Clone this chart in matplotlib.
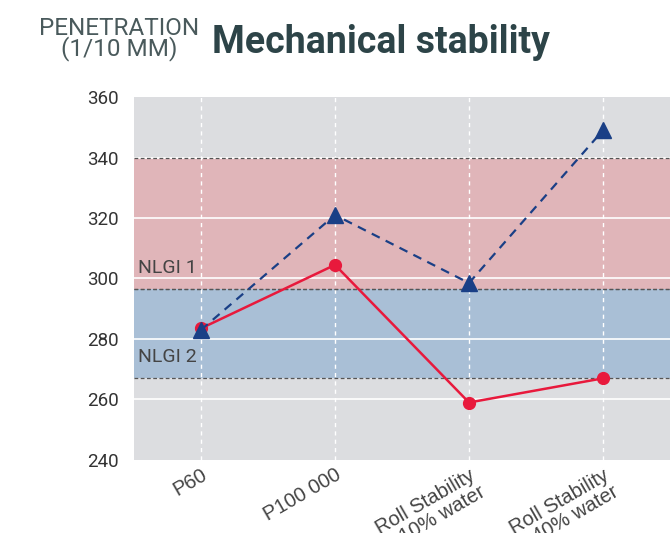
import numpy as np
import matplotlib.pyplot as plt
import matplotlib.transforms as mtransforms

# chart data
categories = ["P60", "P100 000", "Roll Stability\n10% water", "Roll Stability\n40% water"]
grease_a = [283, 321, 298.5, 349]   # blue dashed, triangles
grease_b = [283.5, 304.5, 259, 267]  # red solid, circles
nlgi_bands = {"NLGI 1": (296.5, 340), "NLGI 2": (267, 296.5)}
y_ticks = [240, 260, 280, 300, 320, 340, 360]

plt.rcParams['font.family'] = ['Roboto', 'DejaVu Sans']

fig = plt.figure(figsize=(6.7, 5.33), dpi=100)
ax = fig.add_axes([0.2, 0.137, 0.8, 0.681])
ax.set_facecolor("#dcdde0")

band_colors = {"NLGI 1": "#e0b5b9", "NLGI 2": "#a9bfd6"}
for name, (lo, hi) in nlgi_bands.items():
    ax.axhspan(lo, hi, color=band_colors[name], zorder=0.5, lw=0)
    ax.axhline(lo, color="#555555", lw=0.9, ls=(0, (3, 2)), zorder=1.5)
    ax.axhline(hi, color="#555555", lw=0.9, ls=(0, (3, 2)), zorder=1.5)
    ax.text(-0.47, lo + 4, name, fontsize=14, color="#444444", va="bottom", ha="left", zorder=3)

x = np.arange(len(categories))
for t in y_ticks[1:-1]:
    ax.axhline(t, color="white", lw=1.2, zorder=1)
for xi in x:
    ax.axvline(xi, color="white", lw=1, ls=(0, (3, 3)), zorder=1)

ax.plot(x, grease_a, color="#1a3f86", ls=(0, (4, 3)), lw=1.6, marker="^", ms=12, zorder=4)
ax.plot(x, grease_b, color="#e8193c", lw=1.8, marker="o", ms=8.5, zorder=3.5)

ax.set_xlim(-0.5, 3.5)
ax.set_ylim(240, 360)
ax.set_yticks(y_ticks)
ax.set_xticks(x)
ax.set_xticklabels(categories, rotation=30, ha="right", rotation_mode="anchor",
                   fontsize=14.5, color="#444444", linespacing=1.0,
                   family=["Liberation Sans", "DejaVu Sans"])
shift = mtransforms.ScaledTranslation(7 / 100, 1 / 100, fig.dpi_scale_trans)
for lbl in ax.get_xticklabels():
    lbl.set_transform(lbl.get_transform() + shift)
ax.tick_params(axis="y", labelsize=13.5, labelcolor="#333333", length=0, pad=11)
ax.tick_params(axis="x", length=0, pad=4)
for s in ax.spines.values():
    s.set_visible(False)

fig.text(0.178, 0.927, "PENETRATION\n(1/10 MM)", ha="center", va="center",
         fontsize=17.5, color="#4a5a5c", linespacing=0.8)
fig.text(0.316, 0.92, "Mechanical stability", ha="left", va="center",
         fontsize=27, fontweight="bold", color="#2d4448")

fig.savefig("out.png", dpi=100)
